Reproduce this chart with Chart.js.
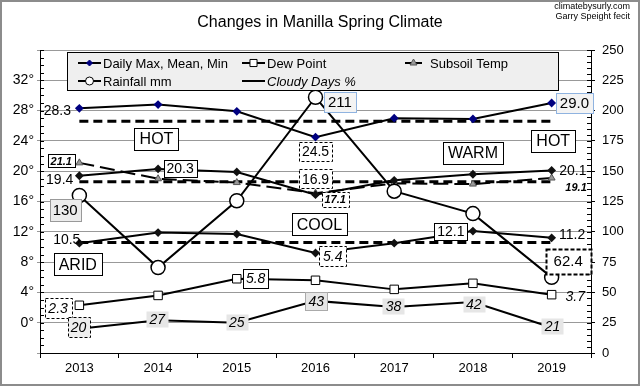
<!DOCTYPE html>
<html>
<head>
<meta charset="utf-8">
<script src="https://cdn.jsdelivr.net/npm/chart.js@4.4.1/dist/chart.umd.min.js"></script>
<style>
  html, body { margin: 0; padding: 0; background: #fff; }
  #wrap { width: 640px; height: 386px; }
</style>
</head>
<body>
<div id="wrap"><canvas id="chart" width="640" height="386"></canvas></div>
<script>
const years = ["2013", "2014", "2015", "2016", "2017", "2018", "2019"];

// temperatures, left axis (deg C)
const dailyMax = [28.3, 28.8, 27.9, 24.5, 27.0, 26.9, 29.0];
const dailyMean = [19.4, 20.3, 19.9, 16.9, 18.8, 19.6, 20.1];
const dailyMin = [10.5, 11.9, 11.7, 9.2, 10.5, 12.1, 11.2];
const longMax = [26.6, 26.6, 26.6, 26.6, 26.6, 26.6, 26.6];
const longMean = [18.6, 18.6, 18.6, 18.6, 18.6, 18.6, 18.6];
const longMin = [10.6, 10.6, 10.6, 10.6, 10.6, 10.6, 10.6];
const dewPoint = [2.3, 3.6, 5.8, 5.6, 4.4, 5.2, 3.7];
const subsoil = [21.1, 19.0, 18.5, 17.1, 18.4, 18.3, 19.1];

// right axis
const rainfall = [130, 70.5, 125.6, 211, 133.5, 115, 62.4];
const cloudyDays = [20, 27, 25, 43, 38, 42, 21];

const FONT = "'Liberation Sans', Arial, sans-serif";

// text notes: [text, category position, left-axis value, style]
const notes = [
  ["28.3", -0.28, 28.1, "plain"],
  ["HOT", 0.98, 24.3, "zone"],
  ["21.1", -0.23, 21.4, "smallBox"],
  ["19.4", -0.25, 19.0, "plain"],
  ["20.3", 1.28, 20.4, "box"],
  ["130", -0.18, 14.9, "greyBox"],
  ["10.5", -0.16, 11.0, "plain"],
  ["ARID", -0.02, 7.7, "zone"],
  ["2.3", -0.27, 1.9, "dashItal"],
  ["20", -0.01, -0.6, "dashGrey"],
  ["27", 0.99, 0.5, "grey"],
  ["COOL", 3.05, 13.0, "zone"],
  ["5.4", 3.22, 8.8, "dashItal"],
  ["5.8", 2.24, 5.9, "boxItal"],
  ["25", 2.0, 0.1, "grey"],
  ["43", 3.01, 2.8, "greyBoxItal"],
  ["38", 3.99, 2.2, "grey"],
  ["42", 5.01, 2.5, "grey"],
  ["21", 6.01, -0.4, "grey"],
  ["12.1", 4.72, 12.1, "box"],
  ["11.2", 6.26, 11.7, "plain"],
  ["62.4", 6.21, 8.1, "bigDash"],
  ["3.7", 6.3, 3.5, "plainItal"],
  ["24.5", 3.0, 22.6, "dash"],
  ["16.9", 3.0, 19.0, "dash"],
  ["17.1", 3.25, 16.3, "smallDash"],
  ["211", 3.31, 29.1, "blue"],
  ["29.0", 6.29, 29.0, "blue"],
  ["HOT", 6.02, 24.0, "zone"],
  ["WARM", 5.0, 22.4, "zone"],
  ["20.1", 6.27, 20.2, "plain"],
  ["19.1", 6.31, 17.9, "smallPlain"]
];

const noteStyles = {
  plain: { font: "14px" },
  plainItal: { font: "italic 14px" },
  smallPlain: { font: "bold italic 11px" },
  box: { font: "14px", pad: 3, h: 17, fill: "#fff", stroke: "#000" },
  boxItal: { font: "italic 14px", pad: 3, h: 19, fill: "#fff", stroke: "#000" },
  zone: { font: "16px", pad: 5, h: 22, fill: "#fff", stroke: "#000" },
  smallBox: { font: "bold italic 11px", pad: 3, h: 13, fill: "#fff", stroke: "#000" },
  smallDash: { font: "bold italic 11px", pad: 3, h: 15, fill: "#fff", stroke: "#000", dash: [3, 2] },
  dash: { font: "14px", pad: 3, h: 19, fill: "#fff", stroke: "#000", dash: [3, 2] },
  dashItal: { font: "italic 14px", pad: 4, h: 20, fill: "#fff", stroke: "#000", dash: [3, 2] },
  dashGrey: { font: "italic 14px", pad: 3, h: 20, fill: "#eee", stroke: "#000", dash: [3, 2] },
  bigDash: { font: "15px", pad: 8, h: 25, fill: "#fff", stroke: "#000", dash: [4, 2], lw: 2 },
  blue: { font: "15px", pad: 4, h: 20, fill: "#f3f3f3", stroke: "#8fb3e0" },
  grey: { font: "italic 14px", pad: 3, h: 16, fill: "#e6e6e6" },
  greyBox: { font: "15px", pad: 3, h: 22, fill: "#ececec", stroke: "#999" },
  greyBoxItal: { font: "italic 14px", pad: 3, h: 18, fill: "#e6e6e6", stroke: "#aaa" }
};

function drawNote(ctx, chart, n) {
  const st = noteStyles[n[3]];
  const x = chart.scales.x.getPixelForValue(n[1]);
  const y = chart.scales.y.getPixelForValue(n[2]);
  ctx.save();
  ctx.font = st.font + " " + FONT;
  if (st.h) {
    const w = Math.round(ctx.measureText(n[0]).width + st.pad * 2);
    const bx = Math.round(x - w / 2) + 0.5, by = Math.round(y - st.h / 2) + 0.5;
    ctx.fillStyle = st.fill;
    ctx.fillRect(bx, by, w, st.h);
    if (st.stroke) {
      ctx.strokeStyle = st.stroke;
      ctx.lineWidth = st.lw || 1;
      ctx.setLineDash(st.dash || []);
      ctx.strokeRect(bx, by, w, st.h);
    }
  }
  ctx.fillStyle = "#000";
  ctx.textAlign = "center";
  ctx.textBaseline = "middle";
  ctx.fillText(n[0], x, y + 1);
  ctx.restore();
}

function legendItem(ctx, x, y, text, opts) {
  ctx.save();
  ctx.strokeStyle = "#000";
  ctx.lineWidth = 2;
  ctx.setLineDash(opts.dash || []);
  ctx.beginPath();
  ctx.moveTo(x, y);
  ctx.lineTo(x + (opts.len || 23), y);
  ctx.stroke();
  ctx.setLineDash([]);
  if (opts.point) {
    ctx.fillStyle = opts.fill;
    ctx.strokeStyle = opts.border;
    ctx.lineWidth = 1;
    Chart.helpers.drawPoint(ctx, { pointStyle: opts.point, radius: opts.r, rotation: 0, borderWidth: 1 }, x + (opts.len || 23) / 2, y);
  }
  ctx.fillStyle = "#000";
  ctx.font = (opts.italic ? "italic " : "") + "13px " + FONT;
  ctx.textAlign = "left";
  ctx.textBaseline = "middle";
  ctx.fillText(text, opts.tx || x + 25, y + 1);
  ctx.restore();
}

const decor = {
  id: "decor",
  beforeDraw(chart) {
    const ctx = chart.ctx;
    ctx.save();
    ctx.fillStyle = "#fff";
    ctx.fillRect(0, 0, chart.width, chart.height);
    ctx.restore();
  },
  afterDraw(chart) {
    const ctx = chart.ctx;
    const a = chart.chartArea;
    const yL = chart.scales.y, yR = chart.scales.y1;

    // minor ticks
    ctx.save();
    ctx.strokeStyle = "#000";
    ctx.lineWidth = 1;
    ctx.beginPath();
    for (let v = -4; v <= 36; v++) {
      const py = Math.round(yL.getPixelForValue(v)) + 0.5;
      ctx.moveTo(a.left, py);
      ctx.lineTo(a.left + 4, py);
    }
    for (let v = 0; v <= 250; v += 5) {
      const py = Math.round(yR.getPixelForValue(v)) + 0.5;
      ctx.moveTo(a.right, py);
      ctx.lineTo(a.right - 4, py);
    }
    ctx.stroke();
    ctx.restore();

    // legend
    ctx.save();
    ctx.fillStyle = "#efefef";
    ctx.fillRect(67.5, 52.5, 491, 38);
    ctx.strokeStyle = "#000";
    ctx.lineWidth = 1;
    ctx.strokeRect(67.5, 52.5, 491, 38);
    ctx.restore();
    legendItem(ctx, 78, 63, "Daily Max, Mean, Min", { point: "rectRot", r: 3, fill: "#000080", border: "#000080" });
    legendItem(ctx, 242, 63, "Dew Point", { point: "rect", r: 5, fill: "#fff", border: "#000" });
    legendItem(ctx, 405, 63, "Subsoil Temp", { point: "triangle", r: 4, fill: "#999", border: "#555", len: 17, tx: 430 });
    legendItem(ctx, 78, 81, "Rainfall mm", { point: "circle", r: 4, fill: "#fff", border: "#000" });
    legendItem(ctx, 242, 81, "Cloudy Days %", { italic: true });

    // title and credits
    ctx.save();
    ctx.fillStyle = "#000";
    ctx.textAlign = "center";
    ctx.textBaseline = "middle";
    ctx.font = "16px " + FONT;
    ctx.fillText("Changes in Manilla Spring Climate", 320, 23);
    ctx.textAlign = "right";
    ctx.font = "9px " + FONT;
    ctx.fillText("climatebysurly.com", 630, 7);
    ctx.fillText("Garry Speight fecit", 630, 17);
    ctx.restore();

    notes.forEach(n => drawNote(ctx, chart, n));

    // outer frame
    ctx.save();
    ctx.strokeStyle = "#8c8c8c";
    ctx.lineWidth = 2;
    ctx.strokeRect(1, 1, chart.width - 2, chart.height - 2);
    ctx.restore();
  }
};

const lineBase = { borderColor: "#000", borderWidth: 2, tension: 0, fill: false };

new Chart(document.getElementById("chart"), {
  type: "line",
  data: {
    labels: years,
    datasets: [
      { ...lineBase, label: "Rainfall mm", data: rainfall, yAxisID: "y1", pointStyle: "circle", pointRadius: 7, pointBackgroundColor: "#fff", pointBorderColor: "#000", pointBorderWidth: 1.5, order: 0 },
      { ...lineBase, label: "Daily Max", data: dailyMax, yAxisID: "y", pointStyle: "rectRot", pointRadius: 3, pointBackgroundColor: "#000080", pointBorderColor: "#000080", order: 1 },
      { ...lineBase, label: "Daily Mean", data: dailyMean, yAxisID: "y", pointStyle: "rectRot", pointRadius: 3, pointBackgroundColor: "#111", pointBorderColor: "#111", order: 1 },
      { ...lineBase, label: "Daily Min", data: dailyMin, yAxisID: "y", pointStyle: "rectRot", pointRadius: 3, pointBackgroundColor: "#111", pointBorderColor: "#111", order: 1 },
      { ...lineBase, label: "Dew Point", data: dewPoint, yAxisID: "y", pointStyle: "rect", pointRadius: 6, pointBackgroundColor: "#fff", pointBorderColor: "#000", pointBorderWidth: 1, order: 1 },
      { ...lineBase, label: "Subsoil Temp", data: subsoil, yAxisID: "y", borderDash: [15, 6], pointStyle: "triangle", pointRadius: 4, pointBackgroundColor: "#999", pointBorderColor: "#555", pointBorderWidth: 1, order: 2 },
      { ...lineBase, label: "Cloudy Days %", data: cloudyDays, yAxisID: "y1", pointRadius: 0, order: 2 },
      { ...lineBase, label: "Max average", data: longMax, yAxisID: "y", borderWidth: 3, borderDash: [9, 5], pointRadius: 0, order: 3 },
      { ...lineBase, label: "Mean average", data: longMean, yAxisID: "y", borderWidth: 3, borderDash: [9, 5], pointRadius: 0, order: 3 },
      { ...lineBase, label: "Min average", data: longMin, yAxisID: "y", borderWidth: 3, borderDash: [9, 5], pointRadius: 0, order: 3 }
    ]
  },
  options: {
    responsive: false,
    animation: false,
    devicePixelRatio: 1,
    layout: { padding: { top: 50, left: 0, right: 0, bottom: 0 } },
    plugins: { legend: { display: false }, tooltip: { enabled: false }, title: { display: false } },
    scales: {
      x: {
        type: "category",
        offset: true,
        grid: { display: true, drawOnChartArea: false, tickLength: 5, color: "#000", offset: true },
        border: { color: "#000" },
        ticks: { color: "#000", font: { family: FONT, size: 13 }, padding: 3, maxRotation: 0 },
        afterFit(s) { s.height = 33; }
      },
      y: {
        position: "left",
        min: -4,
        max: 36,
        ticks: {
          stepSize: 4,
          color: "#000",
          font: { family: FONT, size: 14 },
          padding: 3,
          callback: v => (v < 0 || v > 32) ? "" : v + "°"
        },
        grid: { color: "#999", tickLength: 3 },
        border: { color: "#000" },
        afterFit(s) { s.width = 40; }
      },
      y1: {
        position: "right",
        min: 0,
        max: 250,
        ticks: { stepSize: 25, color: "#000", font: { family: FONT, size: 13 }, padding: 7 },
        grid: { drawOnChartArea: false, tickLength: 4, color: "#000" },
        border: { color: "#000" },
        afterFit(s) { s.width = 49; }
      }
    }
  },
  plugins: [decor]
});
</script>
</body>
</html>
